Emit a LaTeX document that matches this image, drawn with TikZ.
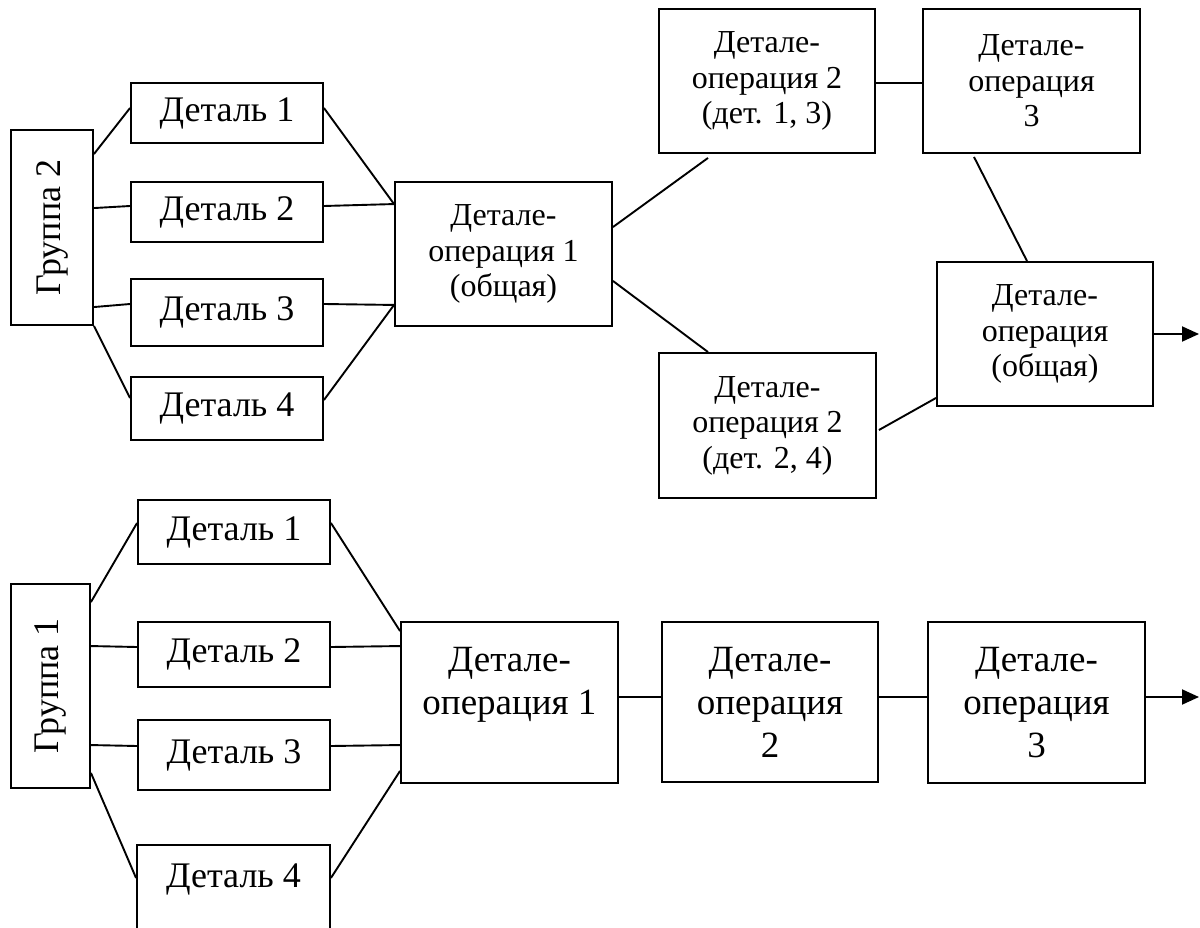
\documentclass[tikz,border=0pt]{standalone}
\usepackage{fontspec}
\setmainfont{Liberation Serif}
\usetikzlibrary{arrows.meta}
\begin{document}
\begin{tikzpicture}[x=1pt,y=-1pt,
  box/.style={draw, line width=1.9pt, inner sep=0pt, align=center},
  det/.style={font=\fontsize{36}{42}\selectfont},
  opT/.style={font=\fontsize{32}{35.5}\selectfont},
  opB/.style={font=\fontsize{37}{43}\selectfont},
  conn/.style={line width=1.9pt},
  outarrow/.style={line width=1.9pt, -{Triangle[length=17pt,width=15pt]}}
]
\path[use as bounding box, fill=white] (0,0) rectangle (1200,928);

% ---------- top: group 2 ----------
\node[box,det,minimum width=82pt,minimum height=195pt] (g2) at (52,227.5) {\rotatebox{90}{Группа 2}};
\node[box,det,minimum width=192pt,minimum height=60pt] (t1) at (227,113) {Деталь 1};
\node[box,det,minimum width=192pt,minimum height=60pt] (t2) at (227,212) {Деталь 2};
\node[box,det,minimum width=192pt,minimum height=67pt] (t3) at (227,312.5) {Деталь 3};
\node[box,det,minimum width=192pt,minimum height=63pt] (t4) at (227,408.5) {Деталь 4};
\node[box,opT,minimum width=217pt,minimum height=144pt] (d1) at (503.5,254) {Детале-\\операция 1\\(общая)};
\node[box,opT,minimum width=216pt,minimum height=144pt] (d2a) at (767,81) {Детале-\\операция 2\\(дет. 1, 3)};
\node[box,opT,minimum width=217pt,minimum height=144pt] (d3a) at (1031.5,81) {Детале-\\операция\\3};
\node[box,opT,minimum width=216pt,minimum height=144pt] (dg) at (1045,334) {Детале-\\операция\\(общая)};
\node[box,opT,minimum width=217pt,minimum height=145pt] (d2b) at (767.5,425.5) {Детале-\\операция 2\\(дет. 2, 4)};
\coordinate (o1) at (1199,334);

\draw[conn] ([yshift=-25pt]g2.north east) -- ([yshift=5pt]t1.west);
\draw[conn] ([yshift=-79pt]g2.north east) -- ([yshift=6pt]t2.west);
\draw[conn] ([yshift=-178pt]g2.north east) -- ([yshift=8.5pt]t3.west);
\draw[conn] (g2.south east) -- ([yshift=10.5pt]t4.west);
\draw[conn] ([yshift=5pt]t1.east) -- ([yshift=-23pt]d1.north west);
\draw[conn] ([yshift=6pt]t2.east) -- ([yshift=-23pt]d1.north west);
\draw[conn] ([yshift=8.5pt]t3.east) -- ([yshift=22pt]d1.south west);
\draw[conn] ([yshift=8.5pt]t4.east) -- ([yshift=22pt]d1.south west);
\draw[conn] ([yshift=-46pt]d1.north east) -- ([xshift=-59pt,yshift=-4pt]d2a.south);
\draw[conn] ([yshift=46pt]d1.south east) -- ([xshift=-59.5pt]d2b.north);
\draw[conn] ([yshift=-2pt]d2a.east) -- ([yshift=-2pt]d3a.west);
\draw[conn] ([xshift=-57.5pt,yshift=-3pt]d3a.south) -- ([xshift=-18pt]dg.north);
\draw[conn] ([xshift=2pt,yshift=-4.5pt]d2b.east) -- ([yshift=9pt]dg.south west);
\draw[outarrow] (dg.east) -- (o1);

% ---------- bottom: group 1 ----------
\node[box,det,minimum width=79pt,minimum height=204pt] (g1) at (50.5,686) {\rotatebox{90}{Группа 1}};
\node[box,det,minimum width=192pt,minimum height=64pt] (b1) at (234,532) {Деталь 1};
\node[box,det,minimum width=192pt,minimum height=65pt] (b2) at (234,654.5) {Деталь 2};
\node[box,det,minimum width=192pt,minimum height=70pt] (b3) at (234,755) {Деталь 3};
\node[box,det,minimum width=193pt,text height=43pt,text depth=53pt,anchor=north] (b4) at (233.5,844) {Деталь 4};
\node[box,opB,minimum width=217pt,minimum height=161pt] (D1) at (509.5,702.5) {Детале-\\операция 1\\\mbox{}};
\node[box,opB,minimum width=216pt,minimum height=160pt] (D2) at (770,702) {Детале-\\операция\\2};
\node[box,opB,minimum width=217pt,minimum height=161pt] (D3) at (1036.5,702.5) {Детале-\\операция\\3};
\coordinate (o2) at (1199,697);

\draw[conn] ([yshift=-19pt]g1.north east) -- ([yshift=9pt]b1.west);
\draw[conn] ([yshift=-63pt]g1.north east) -- ([yshift=7.5pt]b2.west);
\draw[conn] ([yshift=-162pt]g1.north east) -- ([yshift=9pt]b3.west);
\draw[conn] ([yshift=16pt]g1.south east) -- ([yshift=15pt]b4.west);
\draw[conn] ([yshift=9pt]b1.east) -- ([yshift=-10pt]D1.north west);
\draw[conn] ([yshift=7.5pt]b2.east) -- ([yshift=-25pt]D1.north west);
\draw[conn] ([yshift=9pt]b3.east) -- ([yshift=-124pt]D1.north west);
\draw[conn] ([yshift=15pt]b4.east) -- ([yshift=13pt]D1.south west);
\draw[conn] ([yshift=5.5pt]D1.east) -- ([yshift=5pt]D2.west);
\draw[conn] ([yshift=5pt]D2.east) -- ([yshift=5.5pt]D3.west);
\draw[outarrow] ([yshift=5.5pt]D3.east) -- (o2);
\end{tikzpicture}
\end{document}
